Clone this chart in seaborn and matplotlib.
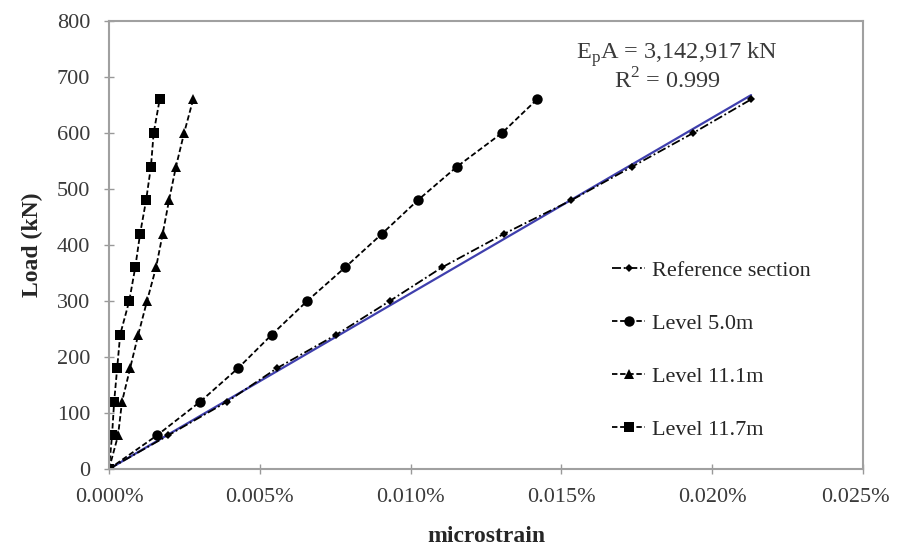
import numpy as np
import pandas as pd
import seaborn as sns
import matplotlib
matplotlib.use("Agg")
import matplotlib.pyplot as plt
import matplotlib.transforms as mtransforms
from matplotlib.ticker import FuncFormatter

# load steps (kN)
load = [0, 60, 120, 180, 240, 300, 360, 420, 480, 540, 600, 660]

# strain readings (%)
ref_section = [0, 0.00196, 0.00391, 0.00557, 0.00754, 0.00931, 0.01104, 0.01310, 0.01533, 0.01735, 0.01937, 0.02129]
level_5_0 = [0, 0.00159, 0.00302, 0.00428, 0.00540, 0.00657, 0.00783, 0.00905, 0.01024, 0.01154, 0.01303, 0.01419]
level_11_1 = [0, 0.00030, 0.00043, 0.00070, 0.00097, 0.00126, 0.00156, 0.00178, 0.00199, 0.00222, 0.00249, 0.00279]
level_11_7 = [0, 0.00010, 0.00017, 0.00027, 0.00037, 0.00067, 0.00087, 0.00103, 0.00123, 0.00139, 0.00148, 0.00168]

series_names = ["Reference section", "Level 5.0m", "Level 11.1m", "Level 11.7m"]
x_ticks = [0, 0.005, 0.010, 0.015, 0.020, 0.025]
y_ticks = [0, 100, 200, 300, 400, 500, 600, 700, 800]

annot_eq = "E$_\\mathregular{p}$A = 3,142,917 kN"
annot_r2 = "R$^\\mathregular{2}$ = 0.999"


def build_frame():
    rows = []
    for name, vals in zip(series_names, [ref_section, level_5_0, level_11_1, level_11_7]):
        for x, y in zip(vals, load):
            rows.append({"series": name, "strain": x, "load": y})
    return pd.DataFrame(rows)


def main():
    sns.set_style("white")
    plt.rcParams["font.family"] = ["Liberation Serif", "DejaVu Serif"]
    plt.rcParams["mathtext.fontset"] = "custom"
    plt.rcParams["mathtext.rm"] = "Liberation Serif"

    df = build_frame()

    fig = plt.figure(figsize=(8.98, 5.5), dpi=100)
    ax = fig.add_axes([0.1214, 0.1473, 0.8396, 0.8145])

    # linear fit through origin for the reference section
    xs = np.array(ref_section)
    ys = np.array(load)
    slope = (xs * ys).sum() / (xs * xs).sum()
    fit_x = np.array([0, xs.max()])
    ax.plot(fit_x, slope * fit_x, color="#3f3fad", lw=1.6, zorder=1)

    markers = {"Reference section": "D", "Level 5.0m": "o", "Level 11.1m": "^", "Level 11.7m": "s"}
    dashes = {"Reference section": (5, 1.5, 1, 1.5), "Level 5.0m": (3, 1.5),
              "Level 11.1m": (3, 1.5), "Level 11.7m": (3, 1.5)}
    palette = {n: "black" for n in series_names}

    sns.lineplot(data=df, x="strain", y="load", hue="series", style="series",
                 markers=markers, dashes=dashes, palette=palette, sort=False,
                 lw=1.3, markersize=7.5, markeredgewidth=0, ax=ax, zorder=2)

    # smaller marker for reference section
    for line in ax.get_lines():
        if line.get_marker() == "D":
            line.set_markersize(4.5)

    ax.set_xlim(0, 0.025)
    ax.set_ylim(0, 800)
    ax.set_xticks(x_ticks)
    ax.set_yticks(y_ticks)
    ax.xaxis.set_major_formatter(FuncFormatter(lambda v, p: f"{v:.3f}%"))
    ax.tick_params(axis="both", labelsize=16, labelcolor="#3a3a3a", color="#999999",
                   direction="inout", length=7, width=1, bottom=True, left=True)
    ax.tick_params(axis="x", pad=10)
    ax.tick_params(axis="y", pad=10)

    for side in ["left", "bottom", "top", "right"]:
        ax.spines[side].set_color("#a0a0a0")
        ax.spines[side].set_linewidth(1.5)

    ax.set_xlabel("microstrain", fontsize=17, fontweight="bold", labelpad=14)
    ax.set_ylabel("Load (kN)", fontsize=17, fontweight="bold", labelpad=10)

    # last tick label nudged left so it stays inside the figure
    fig.canvas.draw()
    last = ax.get_xticklabels()[-1]
    last.set_transform(last.get_transform() +
                       mtransforms.ScaledTranslation(-8 / 100, 0, fig.dpi_scale_trans))

    ax.text(0.753, 0.924, annot_eq, transform=ax.transAxes, ha="center", va="center",
            fontsize=17.5, color="#3a3a3a")
    ax.text(0.741, 0.866, annot_r2, transform=ax.transAxes, ha="center", va="center",
            fontsize=17.5, color="#3a3a3a")

    handles, labels = ax.get_legend_handles_labels()
    ax.legend(handles, labels, loc="upper left", bbox_to_anchor=(0.667, 0.465),
              frameon=False, fontsize=16, labelspacing=1.45, handlelength=1.5,
              handletextpad=0.3, borderaxespad=0, borderpad=0)

    fig.savefig("out.png", dpi=100)


if __name__ == "__main__":
    main()
